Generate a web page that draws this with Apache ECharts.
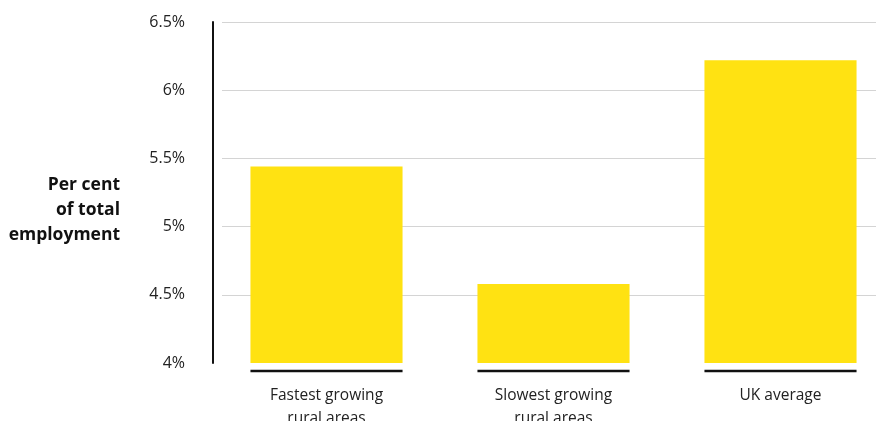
<!DOCTYPE html>
<html>
<head>
<meta charset="utf-8">
<script src="https://cdn.jsdelivr.net/npm/echarts@6/dist/echarts.min.js"></script>
<style>html,body{margin:0;padding:0;background:#fff;}#c{width:876px;height:421px;}</style>
</head>
<body>
<div id="c"></div>
<script>
const categories = ['Fastest growing\nrural areas', 'Slowest growing\nrural areas', 'UK average'];
const values = [5.44, 4.58, 6.22];
const yTicks = [4, 4.5, 5, 5.5, 6, 6.5];
const yTitle = 'Per cent\nof total\nemployment';

const FONT = '"Open Sans", sans-serif';
const chart = echarts.init(document.getElementById('c'), null, {renderer: 'canvas'});
const fmt = v => String(Math.round(v * 10) / 10) + '%';
chart.setOption({
  animation: false,
  backgroundColor: '#fff',
  grid: [
    {left: 213, right: -18, top: 22, bottom: 58, containLabel: false, outerBoundsMode: 'none'},
    {left: 222, right: 0, top: 22, bottom: 58, containLabel: false, outerBoundsMode: 'none'}
  ],
  xAxis: [
    {type: 'category', gridIndex: 0, data: categories,
     axisLine: {show: false}, axisTick: {show: false},
     axisLabel: {color: '#222', fontFamily: FONT, fontSize: 15.5, margin: 21, lineHeight: 23}},
    {type: 'value', gridIndex: 1, show: false, min: 0, max: 1}
  ],
  yAxis: [
    {type: 'value', gridIndex: 0, min: yTicks[0], max: yTicks[yTicks.length - 1], interval: 0.5,
     axisLine: {show: true, lineStyle: {color: '#111', width: 2}},
     axisTick: {show: false}, splitLine: {show: false},
     axisLabel: {color: '#222', fontFamily: FONT, fontSize: 16, margin: 28, formatter: fmt}},
    {type: 'value', gridIndex: 1, min: yTicks[0], max: yTicks[yTicks.length - 1], interval: 0.5,
     axisLine: {show: false}, axisTick: {show: false}, axisLabel: {show: false},
     splitLine: {show: true, lineStyle: {color: ['rgba(0,0,0,0)', '#d4d4d4', '#d4d4d4', '#d4d4d4', '#d4d4d4', '#d4d4d4'], width: 1}}}
  ],
  series: [
    {type: 'bar', xAxisIndex: 0, yAxisIndex: 0, data: values, barCategoryGap: '33%',
     itemStyle: {color: '#FFE212'}, z: 3},
    {type: 'custom', xAxisIndex: 0, yAxisIndex: 0, clip: false, z: 4,
     data: categories.map((c, i) => [i, yTicks[0]]),
     renderItem: function (params, api) {
       const p = api.coord([api.value(0), api.value(1)]);
       const w = api.size([1, 0])[0] * 0.67;
       return {type: 'line', shape: {x1: p[0] - w / 2, y1: p[1] + 8, x2: p[0] + w / 2, y2: p[1] + 8},
               style: {stroke: '#111', lineWidth: 2.5}};
     }}
  ],
  graphic: [
    {type: 'text', right: 756, top: 173,
     style: {text: yTitle, fill: '#111', font: 'bold 17.5px ' + FONT, textAlign: 'right', lineHeight: 25}}
  ]
});
</script>
</body>
</html>
